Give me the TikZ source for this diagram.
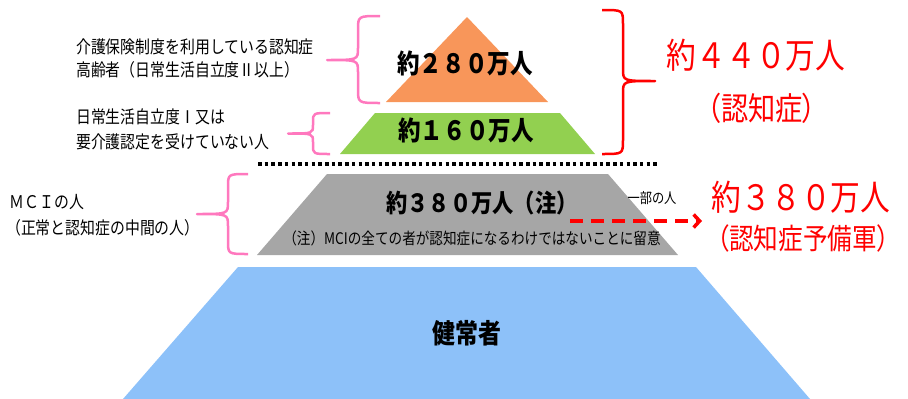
\documentclass[tikz,border=0pt]{standalone}
\usepackage{fontspec}
\setmainfont{Noto Sans CJK JP}[FakeStretch=0.85]
\newfontfamily\jpprop{Noto Sans CJK JP}[FakeStretch=0.85,RawFeature=+palt]
\usetikzlibrary{positioning,arrows.meta}
\definecolor{tierorange}{RGB}{248,150,90}
\definecolor{tiergreen}{RGB}{146,208,80}
\definecolor{tiergray}{RGB}{166,166,166}
\definecolor{tierblue}{RGB}{141,193,249}
\definecolor{bracepink}{RGB}{255,120,190}

\begin{document}
\begin{tikzpicture}[
    x=1pt, y=-1pt,
    note/.style={anchor=west, align=left, inner sep=0pt, font=\fontsize{17.5}{24}\selectfont},
    count/.style={inner sep=0pt, font=\bfseries\fontsize{26.5}{30}\selectfont},
    total/.style={inner sep=0pt, text=red, font=\fontsize{35}{40}\selectfont},
    totalsub/.style={inner sep=0pt, text=red, font=\jpprop\fontsize{32}{36}\selectfont},
    pinkbrace/.style={draw=bracepink, line width=2.5pt, line join=round},
    redbrace/.style={draw=red, line width=2.5pt, line join=round}
]
    \useasboundingbox (0,0) rectangle (908,399);

    % pyramid
    \fill[tierorange] (467,17) -- (548,102) -- (386,102) -- cycle;
    \fill[tiergreen] (375,113) -- (560,113) -- (595,154) -- (340,154) -- cycle;
    \fill[tiergray] (327,174) -- (608,174) -- (678,255) -- (257,255) -- cycle;
    \fill[tierblue] (238,267) -- (696,267) -- (810,399) -- (123,399) -- cycle;

    \node[count] (dementia) at (465,63) {約２８０万人};
    \node[count] (mild) at (466,130) {約１６０万人};
    \node[count, font=\bfseries\fontsize{25}{30}\selectfont] (mci) at (482,203) {約３８０万人（注）};
    \node[inner sep=0pt, font=\fontsize{16}{20}\selectfont] (caution) at (472,238) {（注）MCIの全ての者が認知症になるわけではないことに留意};
    \node[inner sep=0pt, font=\fontsize{14.4}{18}\selectfont] (partial) at (652,198) {一部の人};
    \node[count, font=\bfseries\fontsize{27}{30}\selectfont] (healthy) at (467,333) {健常者};

    \coordinate (dotsL) at (258,164);
    \coordinate (dotsR) at (658,164);
    \draw[line width=4pt, dash pattern=on 3.5pt off 3.2pt] (dotsL) -- (dotsR);

    % left braces and notes
    \draw[pinkbrace] (380,16) .. controls (358,16) .. (358,30) -- (358,48)
        .. controls (358,60) .. (327,60) .. controls (358,60) .. (358,72)
        -- (358,89) .. controls (358,103) .. (380,103);
    \draw[pinkbrace] (330,113) .. controls (313,113) .. (313,122) -- (313,125)
        .. controls (313,133.5) .. (288,133.5) .. controls (313,133.5) .. (313,142)
        -- (313,145) .. controls (313,154) .. (330,154);
    \draw[pinkbrace] (248,174) .. controls (228,174) .. (228,187) -- (228,202)
        .. controls (228,214) .. (197,214) .. controls (228,214) .. (228,226)
        -- (228,241) .. controls (228,254) .. (248,254);

    \node[note, font=\fontsize{17.5}{23}\selectfont] (care) at (76,58.5) {介護保険制度を利用している認知症\\高齢者（日常生活自立度Ⅱ以上）};
    \node[note, font=\fontsize{17.5}{25}\selectfont] (light) at (76,129.5) {日常生活自立度Ⅰ又は\\要介護認定を受けていない人};
    \node[note, font=\fontsize{17.5}{26}\selectfont] (mcinote) at (6,215) {\ ＭＣＩの人\\（正常と認知症の中間の人）};

    % right brace and totals
    \draw[redbrace] (602,10) .. controls (623,10) .. (623,24) -- (623,69)
        .. controls (623,81) .. (655,81) .. controls (623,81) .. (623,93)
        -- (623,140) .. controls (623,154) .. (602,154);

    \node[total] (total440) at (756,55) {約４４０万人};
    \node[totalsub] (total440sub) at (762,108) {（認知症）};
    \node[total] (total380) at (801,197) {約３８０万人};
    \node[totalsub, font=\jpprop\fontsize{29}{34}\selectfont] (total380sub) at (803,238) {（認知症予備軍）};

    \coordinate (arrowS) at (570,221);
    \coordinate (arrowE) at (702,221);
    \draw[red, line width=3.5pt, dash pattern=on 13pt off 8pt, -{Straight Barb[length=6pt,width=13pt]}] (arrowS) -- (arrowE);
\end{tikzpicture}
\end{document}
